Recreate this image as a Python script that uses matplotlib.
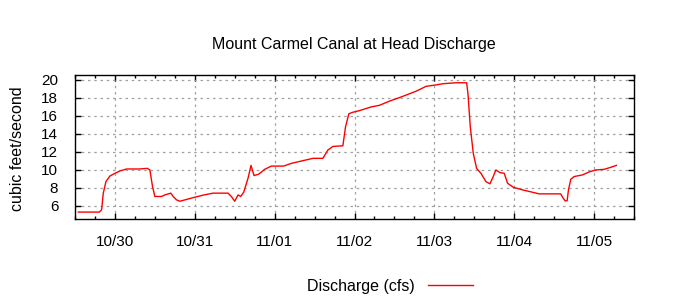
import numpy as np
import pandas as pd
import matplotlib
matplotlib.use('Agg')
import matplotlib.pyplot as plt
import matplotlib.dates as mdates

plt.rcParams['font.family'] = ['Liberation Sans', 'DejaVu Sans']

# hours after 10/29 12:00 and discharge in cfs
start = pd.Timestamp('2012-10-29 12:00')
hours = [1.0, 7.3, 8.0, 8.5, 9.3, 10.5, 12.0, 13.5, 15.5, 19.5, 21.7, 22.5, 23.3, 24.0,
         26.0, 27.0, 28.8, 29.5, 30.5, 31.5, 33.5, 35.5, 38.5, 41.5, 46.0, 47.0, 48.0,
         49.0, 49.8, 50.7, 52.0, 52.9, 53.8, 55.2, 57.0, 59.0, 62.7, 65.0, 68.5, 71.5,
         74.5, 76.0, 77.5, 80.5, 81.3, 82.3, 83.5, 85.5, 89.0, 91.5, 94.5, 98.5, 102.5,
         105.5, 108.5, 110.5, 114.5, 117.7, 118.1, 118.8, 119.7, 120.7, 122.0, 123.5,
         124.7, 125.7, 126.5, 127.7, 129.0, 130.0, 131.7, 134.5, 137.5, 139.5, 146.0,
         146.5, 147.3, 147.9, 148.3, 149.0, 150.0, 152.5, 154.5, 156.5, 159.0, 161.0, 162.7]
cfs = [5.3, 5.3, 5.56, 7.4, 8.68, 9.3, 9.6, 9.86, 10.08, 10.08, 10.15, 9.97, 8.13, 7.03,
       7.03, 7.2, 7.4, 7.03, 6.66, 6.5, 6.7, 6.9, 7.18, 7.4, 7.4, 7.03, 6.5,
       7.2, 7.03, 7.5, 9.05, 10.48, 9.35, 9.5, 10.04, 10.4, 10.4, 10.7, 11.0, 11.26,
       11.26, 12.18, 12.58, 12.65, 14.75, 16.2, 16.37, 16.55, 16.96, 17.14, 17.6, 18.13, 18.7,
       19.24, 19.4, 19.53, 19.64, 19.64, 18.43, 14.75, 11.8, 10.15, 9.6, 8.68,
       8.43, 9.24, 9.97, 9.68, 9.6, 8.5, 8.06, 7.76, 7.5, 7.32, 7.32,
       6.96, 6.55, 6.55, 7.76, 8.94, 9.24, 9.42, 9.75, 9.97, 10.04, 10.26, 10.48]
yticks = [6, 8, 10, 12, 14, 16, 18, 20]

times = start + pd.to_timedelta(hours, unit='h')

fig = plt.figure(figsize=(7, 3), dpi=100)
ax = fig.add_axes([75/700, 1 - 219.3/300, 559/700, 144.3/300])

ax.plot(times, cfs, color='red', lw=1, label='Discharge (cfs)')

ax.set_xlim(start, start + pd.Timedelta(days=7))
ax.set_ylim(4.5, 20.5)
ax.set_yticks(yticks)
ax.xaxis.set_major_locator(mdates.DayLocator())
ax.xaxis.set_minor_locator(mdates.HourLocator(byhour=[0, 6, 12, 18]))
ax.xaxis.set_major_formatter(mdates.DateFormatter('%m/%d'))

ax.grid(True, which='major', color='#a0a0a0', linestyle=(0, (2, 3)), lw=0.9)
ax.tick_params(which='both', direction='in', top=True, right=True, labelsize=11, width=1)
ax.tick_params(which='major', length=4)
ax.tick_params(which='minor', length=2)
ax.tick_params(axis='x', pad=11)
ax.tick_params(axis='y', pad=12)
for s in ax.spines.values():
    s.set_linewidth(1)

fig.text(354/700, 1 - 45/300, 'Mount Carmel Canal at Head Discharge', ha='center', va='center', fontsize=11.5)
fig.text(18/700, 1 - 149/300, 'cubic feet/second', rotation=90, ha='center', va='center', fontsize=11.5)

fig.legend(loc='center', bbox_to_anchor=(390/700, 14/300), markerfirst=False, frameon=False,
           handlelength=2.8, handletextpad=0.8, fontsize=11.5)

fig.savefig('out.png', dpi=100)
